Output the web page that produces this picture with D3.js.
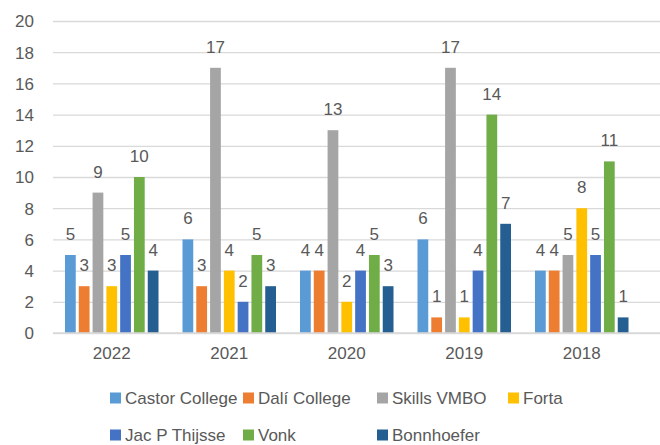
<!DOCTYPE html>
<html>
<head>
<meta charset="utf-8">
<script src="https://cdn.jsdelivr.net/npm/d3@7"></script>
<style>
  html, body { margin: 0; padding: 0; background: #fff; }
  svg text { font-family: "Liberation Sans", "DejaVu Sans", sans-serif; fill: #595959; }
</style>
</head>
<body>
<div class="chart"></div>
<script>
const years = ['2022', '2021', '2020', '2019', '2018'];
const schools = ['Castor College', 'Dalí College', 'Skills VMBO', 'Forta', 'Jac P Thijsse', 'Vonk', 'Bonnhoefer'];
const castor = [5, 6, 4, 6, 4];
const dali = [3, 3, 4, 1, 4];
const skills = [9, 17, 13, 17, 5];
const forta = [3, 4, 2, 1, 8];
const jac = [5, 2, 4, 4, 5];
const vonk = [10, 5, 5, 14, 11];
const bonnhoefer = [4, 3, 3, 7, 1];
const yTicks = [0, 2, 4, 6, 8, 10, 12, 14, 16, 18, 20];
const colors = ['#5B9BD5', '#ED7D31', '#A5A5A5', '#FFC000', '#4472C4', '#70AD47', '#255E91'];

const seriesValues = [castor, dali, skills, forta, jac, vonk, bonnhoefer];
const data = years.map((year, i) => ({
    year,
    values: schools.map((school, j) => ({ school, value: seriesValues[j][i], color: colors[j] }))
}));

const chartWidth = 660, chartHeight = 445;
const canvas = d3.select('div.chart').append('svg').attr('width', chartWidth).attr('height', chartHeight);

const x = d3.scaleBand().domain(years).range([53, 640.5]).paddingInner(0).paddingOuter(0);
const y = d3.scaleLinear().domain([0, 20]).range([333, 21]);
const groupWidth = 93.5;
const xInner = d3.scaleBand().domain(schools).range([0, groupWidth]).paddingInner(0.22).paddingOuter(0);

// grid
const yGrid = d3.axisLeft(y).tickValues(yTicks).tickFormat('').tickSizeInner(-(chartWidth - 53)).tickSizeOuter(0);
canvas.append('g').classed('y-grid', true)
    .attr('transform', 'translate(53, 0)')
    .call(yGrid)
    .call(g => g.select('.domain').remove())
    .call(g => g.selectAll('line').attr('stroke', '#D9D9D9').attr('stroke-width', 1.3));

// y labels
const yAxis = d3.axisLeft(y).tickValues(yTicks).tickSize(0).tickPadding(0);
canvas.append('g').classed('y-axis', true)
    .attr('transform', 'translate(34, 0)')
    .call(yAxis)
    .call(g => g.select('.domain').remove())
    .call(g => g.selectAll('text').attr('font-size', 17).attr('dy', '0.35em'));

// bars
const groups = canvas.append('g').classed('bars', true)
    .selectAll('g.year')
    .data(data)
    .enter()
    .append('g')
    .classed('year', true)
    .attr('transform', d => `translate(${x(d.year) + (x.bandwidth() - groupWidth) / 2}, 0)`);

groups.selectAll('rect')
    .data(d => d.values)
    .enter()
    .append('rect')
    .attr('x', d => xInner(d.school))
    .attr('y', d => y(d.value))
    .attr('width', xInner.bandwidth())
    .attr('height', d => y(0) - y(d.value))
    .attr('fill', d => d.color);

groups.selectAll('text.value')
    .data(d => d.values)
    .enter()
    .append('text')
    .classed('value', true)
    .attr('x', d => xInner(d.school) + xInner.bandwidth() / 2)
    .attr('y', d => y(d.value) - 15)
    .attr('text-anchor', 'middle')
    .attr('font-size', 17)
    .text(d => d.value);

// x axis
const xAxis = d3.axisBottom(x).tickSize(0).tickPadding(0);
canvas.append('g').classed('x-axis', true)
    .attr('transform', 'translate(0, 333)')
    .call(xAxis)
    .call(g => g.select('.domain').remove())
    .call(g => g.selectAll('text').attr('font-size', 17).attr('dy', '26'));
canvas.append('line')
    .attr('x1', 53).attr('x2', chartWidth)
    .attr('y1', y(0)).attr('y2', y(0))
    .attr('stroke', '#D9D9D9').attr('stroke-width', 1.3);

// legend
const legendCols = [110, 243, 377, 508];
const legendRows = [398, 435];
const legend = canvas.append('g').classed('legend', true)
    .selectAll('g')
    .data(schools)
    .enter()
    .append('g')
    .attr('transform', (d, i) => `translate(${legendCols[i % 4]}, ${legendRows[Math.floor(i / 4)]})`);
legend.append('rect')
    .attr('x', 0).attr('y', -5.5)
    .attr('width', 11).attr('height', 11)
    .attr('fill', (d, i) => colors[i]);
legend.append('text')
    .attr('x', 15).attr('y', 0).attr('dy', '0.36em')
    .attr('font-size', 17)
    .text(d => d);
</script>
</body>
</html>
